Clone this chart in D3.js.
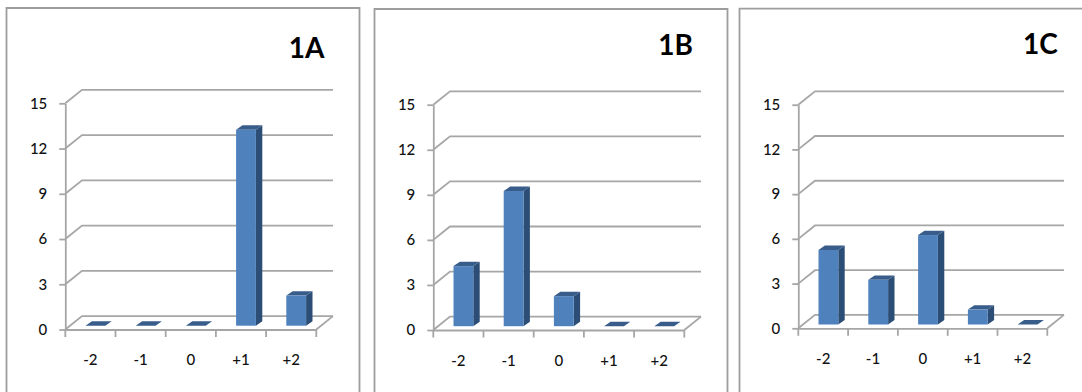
<!DOCTYPE html>
<html>
<head>
<meta charset="utf-8">
<script src="https://cdn.jsdelivr.net/npm/d3@7"></script>
<style>
  html, body { margin: 0; padding: 0; background: #fff; }
  svg { display: block; }
  text { font-family: Lato, "Open Sans", sans-serif; fill: #111; }
</style>
</head>
<body>
<svg id="chart" width="1082" height="392"></svg>
<script>
// Response counts per rating category for each of the three groups
const categories = ["-2", "-1", "0", "+1", "+2"];
const yTicks = [0, 3, 6, 9, 12, 15];
const titles = ["1A", "1B", "1C"];
const values1A = [0, 0, 0, 13, 2];
const values1B = [4, 9, 2, 0, 0];
const values1C = [5, 3, 6, 1, 0];
const seriesList = [values1A, values1B, values1C];

// Frame and plot geometry of each panel
const layouts = [
  { frame: [6.5, 8, 359.5], x: [65.3, 316.3], y: [329.5, 103.3], titleX: 306.5, titleY: 58 },
  { frame: [374.5, 9, 727.5], x: [433.3, 684.3], y: [330, 104.7], titleX: 675.5, titleY: 55 },
  { frame: [739.5, 8.7, 1090], x: [798.3, 1047.3], y: [328.3, 104.7], titleX: 1040.5, titleY: 54 }
];

// Oblique projection: wall depth, bar depth and bar inset within its band
const depth = { dx: 16.7, dy: -13.4 };
const barDepth = { dx: 6.4, dy: -4.4 };
const floorInset = 3.8;
const barOffset = 20.2, barWidth = 19.8;

const colors = { front: "#4f81bd", side: "#2c4d75", top: "#385d8a", grid: "#a6a6a6", frame: "#9d9d9d" };

const svg = d3.select("#chart");
const poly = pts => pts.map(p => p.join(",")).join(" ");

seriesList.forEach((values, idx) => {
  const L = layouts[idx];
  const g = svg.append("g");

  // Panel outline, open at the bottom
  g.append("path")
    .attr("d", `M${L.frame[0]},392V${L.frame[1]}H${L.frame[2]}V392`)
    .attr("fill", "none").attr("stroke", colors.frame).attr("stroke-width", 1.8);

  const x = d3.scaleBand().domain(categories).range(L.x);
  const y = d3.scaleLinear().domain([0, 15]).range(L.y);

  // Back wall gridlines with their diagonal run to the front edge
  g.selectAll(".grid").data(yTicks).join("path")
    .attr("class", "grid")
    .attr("d", t => `M${L.x[0]},${y(t)}l${depth.dx},${depth.dy}H${L.x[1] + depth.dx}`)
    .attr("fill", "none").attr("stroke", colors.grid).attr("stroke-width", 1.8);

  // Right edge of the floor
  g.append("line")
    .attr("x1", L.x[1]).attr("y1", y(0))
    .attr("x2", L.x[1] + depth.dx).attr("y2", y(0) + depth.dy)
    .attr("stroke", colors.grid).attr("stroke-width", 1.8);

  // Value axis
  const yAxis = g.append("g")
    .attr("transform", `translate(${L.x[0]},0)`)
    .call(d3.axisLeft(y).tickValues(yTicks).tickSize(6).tickSizeOuter(0).tickPadding(12));

  // Category axis: ticks sit on band boundaries, labels in the band centres
  const xAxis = g.append("g")
    .attr("transform", `translate(0,${y(0)})`)
    .call(d3.axisBottom(x).tickSize(0).tickPadding(25));
  xAxis.selectAll(".boundary").data(d3.range(categories.length + 1)).join("line")
    .attr("class", "boundary")
    .attr("x1", i => L.x[0] + i * x.step()).attr("x2", i => L.x[0] + i * x.step())
    .attr("y1", 0).attr("y2", 7.5)
    .attr("stroke", colors.grid).attr("stroke-width", 1.8);

  [yAxis, xAxis].forEach(a => {
    a.attr("font-family", null).attr("font-size", null);
    a.selectAll(".domain, .tick line").attr("stroke", colors.grid).attr("stroke-width", 1.8);
    a.selectAll("text").style("font-size", "15px").style("font-weight", 500).attr("fill", "#111");
  });
  xAxis.selectAll(".tick line").remove();

  // Bars as three visible faces of a box
  const bars = g.selectAll(".bar").data(values.map((v, i) => ({ v, c: categories[i] }))).join("g").attr("class", "bar");
  const left = d => x(d.c) + barOffset;
  const base = y(0) - floorInset;
  const topY = d => y(d.v) - floorInset;

  bars.filter(d => d.v > 0).append("polygon")
    .attr("fill", colors.side)
    .attr("points", d => poly([
      [left(d) + barWidth, topY(d)],
      [left(d) + barWidth + barDepth.dx, topY(d) + barDepth.dy],
      [left(d) + barWidth + barDepth.dx, base + barDepth.dy],
      [left(d) + barWidth, base]
    ]));
  bars.append("polygon")
    .attr("fill", colors.top)
    .attr("points", d => poly([
      [left(d), topY(d)],
      [left(d) + barDepth.dx, topY(d) + barDepth.dy],
      [left(d) + barWidth + barDepth.dx, topY(d) + barDepth.dy],
      [left(d) + barWidth, topY(d)]
    ]));
  bars.filter(d => d.v > 0).append("rect")
    .attr("x", left).attr("y", topY)
    .attr("width", barWidth).attr("height", d => base - topY(d))
    .attr("fill", colors.front);

  g.append("text")
    .attr("x", L.titleX).attr("y", L.titleY)
    .attr("text-anchor", "middle")
    .style("font-size", "28px").style("font-weight", 700)
    .style("fill", "#000")
    .text(titles[idx]);
});
</script>
</body>
</html>
